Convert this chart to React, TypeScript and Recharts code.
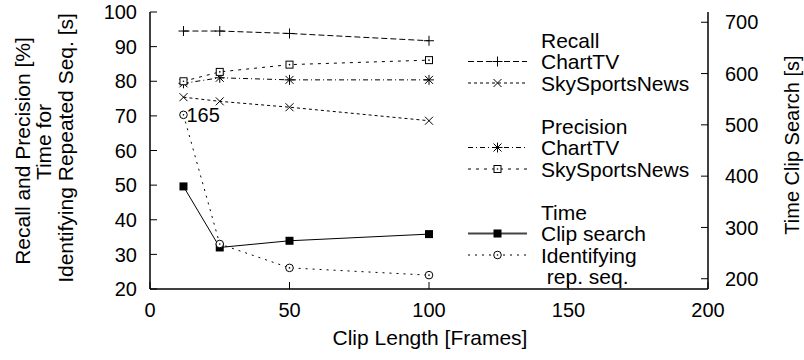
import { ComposedChart, Line, XAxis, YAxis, Legend, LabelList } from 'recharts'

const clipLength = [12, 25, 50, 100]
const recallChartTV = [94.5, 94.5, 93.8, 91.7]
const recallSkySports = [75.4, 74.2, 72.5, 68.6]
const precisionChartTV = [79.4, 81.0, 80.4, 80.4]
const precisionSkySports = [80.0, 82.7, 84.8, 86.1]
const timeClipSearch = [380, 261, 274, 287]
const timeIdentifying = [70.3, 33.0, 26.1, 24.0]
const identifyingNotes = ['165', '', '', '']

const xTicks = [0, 50, 100, 150, 200]
const leftTicks = [20, 30, 40, 50, 60, 70, 80, 90, 100]
const rightTicks = [200, 300, 400, 500, 600, 700]

const data = clipLength.map((x, i) => ({
  x,
  recallChartTV: recallChartTV[i],
  recallSkySports: recallSkySports[i],
  precisionChartTV: precisionChartTV[i],
  precisionSkySports: precisionSkySports[i],
  timeClipSearch: timeClipSearch[i],
  timeIdentifying: timeIdentifying[i],
  note: identifyingNotes[i],
}))

const FONT = '"Liberation Sans", Arial, Helvetica, sans-serif'
const TICK = 7
const FRAME = { stroke: '#000', strokeWidth: 1.5 }

type Kind = 'plus' | 'cross' | 'star' | 'box' | 'fbox' | 'circle'

function Marker({ kind, cx, cy }: { kind: Kind; cx: number; cy: number }) {
  const s = { stroke: '#000', strokeWidth: 1, fill: 'none' }
  if (kind === 'plus') {
    return (
      <g>
        <line x1={cx - 5} x2={cx + 5} y1={cy} y2={cy} {...s} />
        <line x1={cx} x2={cx} y1={cy - 5} y2={cy + 5} {...s} />
      </g>
    )
  }
  if (kind === 'cross') {
    return (
      <g>
        <line x1={cx - 4} x2={cx + 4} y1={cy - 4} y2={cy + 4} {...s} />
        <line x1={cx - 4} x2={cx + 4} y1={cy + 4} y2={cy - 4} {...s} />
      </g>
    )
  }
  if (kind === 'star') {
    return (
      <g>
        <line x1={cx - 5} x2={cx + 5} y1={cy} y2={cy} {...s} />
        <line x1={cx} x2={cx} y1={cy - 5} y2={cy + 5} {...s} />
        <line x1={cx - 4} x2={cx + 4} y1={cy - 4} y2={cy + 4} {...s} />
        <line x1={cx - 4} x2={cx + 4} y1={cy + 4} y2={cy - 4} {...s} />
      </g>
    )
  }
  if (kind === 'box') {
    return (
      <g>
        <rect x={cx - 3.5} y={cy - 3.5} width={7} height={7} {...s} fill="#fff" />
        <circle cx={cx} cy={cy} r={0.8} fill="#000" />
      </g>
    )
  }
  if (kind === 'fbox') {
    return <rect x={cx - 4} y={cy - 4} width={8} height={8} fill="#000" />
  }
  return (
    <g>
      <circle cx={cx} cy={cy} r={3.8} {...s} fill="#fff" />
      <circle cx={cx} cy={cy} r={0.8} fill="#000" />
    </g>
  )
}

const dotOf = (kind: Kind) => (p: any) => <Marker key={p.index} kind={kind} cx={p.cx} cy={p.cy} />

const LeftTick = (p: any) => (
  <g>
    <line x1={p.x + 13} x2={p.x + 13 + TICK} y1={p.y} y2={p.y} stroke="#000" />
    <text x={p.x} y={p.y} dy="0.36em" textAnchor="end" fontSize={20} fontFamily={FONT} fill="#000">
      {p.payload.value}
    </text>
  </g>
)

const RightTick = (p: any) => (
  <g>
    <line x1={p.x - 17} x2={p.x - 17 - TICK} y1={p.y} y2={p.y} stroke="#000" />
    <text x={p.x} y={p.y} dy="0.36em" textAnchor="start" fontSize={20} fontFamily={FONT} fill="#000">
      {p.payload.value}
    </text>
  </g>
)

const BottomTick = (p: any) => (
  <g>
    <line x1={p.x} x2={p.x} y1={p.y - 14} y2={p.y - 14 - TICK} stroke="#000" />
    <text x={p.x} y={p.y} dy="0.71em" textAnchor="middle" fontSize={20} fontFamily={FONT} fill="#000">
      {p.payload.value}
    </text>
  </g>
)

const TopTick = (p: any) => (
  <line x1={p.x} x2={p.x} y1={p.y} y2={p.y + TICK} stroke="#000" />
)

function VText({ x, y, size, children }: { x: number; y: number; size: number; children: string }) {
  return (
    <text
      transform={`translate(${x},${y}) rotate(-90)`}
      textAnchor="middle"
      dy="0.36em"
      fontSize={size}
      fontFamily={FONT}
      fill="#000"
    >
      {children}
    </text>
  )
}

const LeftTitle = () => (
  <g>
    <VText x={22} y={151} size={21}>Recall and Precision [%]</VText>
    <VText x={43} y={142} size={21}>Time for</VText>
    <VText x={65} y={148} size={21}>Identifying Repeated Seq. [s]</VText>
  </g>
)

const RightTitle = () => <VText x={792} y={145} size={20}>Time Clip Search [s]</VText>

const BottomTitle = () => (
  <text x={430} y={337} dy="0.36em" textAnchor="middle" fontSize={21} fontFamily={FONT} fill="#000">
    Clip Length [Frames]
  </text>
)

const NoteLabel = (p: any) => {
  if (!p.value) return null
  return (
    <text x={p.x + 3} y={p.y} dy="0.36em" fontSize={20} fontFamily={FONT} fill="#000">
      {p.value}
    </text>
  )
}

const legendRows: { text: string; kind?: Kind; dash?: string }[] = [
  { text: 'Recall' },
  { text: 'ChartTV', kind: 'plus', dash: '6 3' },
  { text: 'SkySportsNews', kind: 'cross', dash: '3 3' },
  { text: '' },
  { text: 'Precision' },
  { text: 'ChartTV', kind: 'star', dash: '5 3 1 3' },
  { text: 'SkySportsNews', kind: 'box', dash: '3 5' },
  { text: '' },
  { text: 'Time' },
  { text: 'Clip search', kind: 'fbox', dash: '' },
  { text: 'Identifying', kind: 'circle', dash: '2 5' },
  { text: ' rep. seq.' },
]

function LegendBox() {
  return (
    <svg width={804} height={360} style={{ display: 'block' }}>
      {legendRows.map((r, i) => {
        const y = 40 + i * 21.5
        return (
          <g key={i}>
            {r.kind && (
              <>
                <line
                  x1={468}
                  x2={527}
                  y1={y}
                  y2={y}
                  stroke={r.dash ? '#000' : '#444'}
                  strokeWidth={r.dash ? 1 : 2}
                  strokeDasharray={r.dash || undefined}
                />
                <Marker kind={r.kind} cx={497.5} cy={y} />
              </>
            )}
            <text
              x={541}
              y={y}
              dy="0.36em"
              fontSize={21}
              fontFamily={FONT}
              fill="#000"
              style={{ whiteSpace: 'pre' }}
            >
              {r.text}
            </text>
          </g>
        )
      })}
    </svg>
  )
}

export default function App() {
  return (
    <div style={{ position: 'absolute', left: 0, top: 0, background: '#fff' }}>
      <ComposedChart width={804} height={360} data={data} margin={{ top: 12, right: 36, bottom: 21, left: 90 }}>
        <XAxis
          xAxisId="bottom"
          dataKey="x"
          type="number"
          domain={[0, 200]}
          ticks={xTicks}
          interval={0}
          height={50}
          tickSize={0}
          tickMargin={14}
          tickLine={false}
          axisLine={FRAME}
          tick={BottomTick}
          label={<BottomTitle />}
        />
        <XAxis
          xAxisId="top"
          orientation="top"
          dataKey="x"
          type="number"
          domain={[0, 200]}
          ticks={xTicks}
          interval={0}
          height={0}
          tickSize={0}
          tickMargin={0}
          tickLine={false}
          axisLine={FRAME}
          tick={TopTick}
        />
        <YAxis
          yAxisId="left"
          type="number"
          domain={[20, 100]}
          ticks={leftTicks}
          interval={0}
          width={60}
          tickSize={0}
          tickMargin={13}
          tickLine={false}
          axisLine={FRAME}
          tick={LeftTick}
          label={<LeftTitle />}
        />
        <YAxis
          yAxisId="right"
          orientation="right"
          type="number"
          domain={[180, 720]}
          ticks={rightTicks}
          interval={0}
          width={60}
          tickSize={0}
          tickMargin={17}
          tickLine={false}
          axisLine={FRAME}
          tick={RightTick}
          label={<RightTitle />}
        />
        <Legend
          layout="horizontal"
          verticalAlign="middle"
          align="center"
          content={() => <LegendBox />}
          wrapperStyle={{ position: 'absolute', left: 0, top: 0, width: 804, height: 360, pointerEvents: 'none' }}
        />
        <Line xAxisId="bottom" yAxisId="left" dataKey="recallChartTV" type="linear" stroke="#000" strokeWidth={1}
          strokeDasharray="6 3" dot={dotOf('plus')} activeDot={false} isAnimationActive={false} />
        <Line xAxisId="bottom" yAxisId="left" dataKey="recallSkySports" type="linear" stroke="#000" strokeWidth={1}
          strokeDasharray="3 3" dot={dotOf('cross')} activeDot={false} isAnimationActive={false} />
        <Line xAxisId="bottom" yAxisId="left" dataKey="precisionChartTV" type="linear" stroke="#000" strokeWidth={1}
          strokeDasharray="5 3 1 3" dot={dotOf('star')} activeDot={false} isAnimationActive={false} />
        <Line xAxisId="bottom" yAxisId="left" dataKey="precisionSkySports" type="linear" stroke="#000" strokeWidth={1}
          strokeDasharray="3 5" dot={dotOf('box')} activeDot={false} isAnimationActive={false} />
        <Line xAxisId="bottom" yAxisId="right" dataKey="timeClipSearch" type="linear" stroke="#000" strokeWidth={1}
          dot={dotOf('fbox')} activeDot={false} isAnimationActive={false} />
        <Line xAxisId="bottom" yAxisId="left" dataKey="timeIdentifying" type="linear" stroke="#000" strokeWidth={1}
          strokeDasharray="2 5" dot={dotOf('circle')} activeDot={false} isAnimationActive={false}>
          <LabelList dataKey="note" content={NoteLabel} />
        </Line>
      </ComposedChart>
    </div>
  )
}
